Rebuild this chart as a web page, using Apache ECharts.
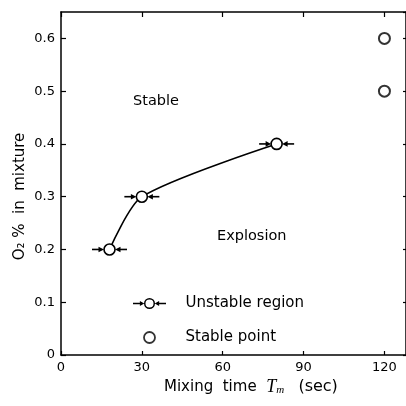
<!DOCTYPE html>
<html>
<head>
<meta charset="utf-8">
<script src="https://cdn.jsdelivr.net/npm/echarts@6/dist/echarts.min.js"></script>
<style>html,body{margin:0;padding:0;background:#fff}#c{width:406px;height:406px}</style>
</head>
<body>
<div id="c"></div>
<script>
// Data
const unstableX = [18, 30, 80];
const unstableY = [0.2, 0.3, 0.4];
const stableX = [120, 120];
const stableY = [0.6, 0.5];
const xTickValues = [0, 30, 60, 90, 120];
const yTickValues = [0, 0.1, 0.2, 0.3, 0.4, 0.5, 0.6];
const seriesNames = ['Unstable region', 'Stable point'];
const regionLabels = ['Stable', 'Explosion'];

const FONT = 'DejaVu Sans';
const unstableData = unstableX.map((x, i) => [x, unstableY[i]]);
const stableData = stableX.map((x, i) => [x, stableY[i]]);

const legendIcon = 'path://M0,5.3L8,5.3L8,6.7L0,6.7Z M7.5,3.2L12.3,6L7.5,8.8Z ' +
  'M36,5.3L28,5.3L28,6.7L36,6.7Z M28.5,3.2L23.7,6L28.5,8.8Z ' +
  'M12,6A6,6 0 1,0 24,6A6,6 0 1,0 12,6Z M13.6,6A4.4,4.4 0 1,1 22.4,6A4.4,4.4 0 1,1 13.6,6Z';

const chart = echarts.init(document.getElementById('c'), null, {renderer: 'canvas'});
const axisLineStyle = {color: '#000', width: 1.5};
chart.setOption({
  animation: false,
  backgroundColor: '#fff',
  grid: {left: 61, right: 0, top: 12, bottom: 51, containLabel: false, outerBoundsMode: 'none'},
  xAxis: [{
    type: 'value', min: 0, max: 128, interval: 30, position: 'bottom',
    axisLine: {show: true, lineStyle: axisLineStyle},
    axisTick: {show: true, inside: true, length: 4, lineStyle: {color: '#000', width: 1.2}},
    splitLine: {show: false},
    axisLabel: {color: '#000', fontFamily: FONT, fontSize: 13, margin: 6, showMaxLabel: false,
      formatter: v => xTickValues.includes(v) ? String(v) : ''}
  }, {
    type: 'value', min: 0, max: 128, interval: 30, position: 'top',
    axisLine: {show: true, onZero: false, lineStyle: axisLineStyle},
    axisTick: {show: true, inside: true, length: 5, lineStyle: {color: '#000', width: 1.2}},
    splitLine: {show: false}, axisLabel: {show: false}
  }],
  yAxis: [{
    type: 'value', min: 0, max: 0.65, interval: 0.1, position: 'left',
    name: 'O\u2082 %  in  mixture', nameLocation: 'middle', nameRotate: 90, nameGap: 33,
    nameMoveOverlap: false,
    nameTextStyle: {color: '#000', fontFamily: FONT, fontSize: 15, padding: [0, 26, 0, 0]},
    axisLine: {show: true, lineStyle: axisLineStyle},
    axisTick: {show: true, inside: true, length: 5, lineStyle: {color: '#000', width: 1.2}},
    splitLine: {show: false},
    axisLabel: {color: '#000', fontFamily: FONT, fontSize: 13, margin: 6, showMaxLabel: false,
      formatter: v => {
        const t = yTickValues.find(y => Math.abs(y - v) < 1e-9);
        if (t === undefined) return '';
        return t === 0 ? '0' : t.toFixed(1);
      }}
  }, {
    type: 'value', min: 0, max: 0.65, interval: 0.1, position: 'right',
    axisLine: {show: true, onZero: false, lineStyle: axisLineStyle},
    axisTick: {show: true, inside: true, length: 3, lineStyle: {color: '#000', width: 1.2}},
    splitLine: {show: false}, axisLabel: {show: false}
  }],
  legend: {
    orient: 'vertical', left: 128, top: 291, itemGap: 19,
    itemWidth: 36, itemHeight: 11,
    textStyle: {color: '#000', fontFamily: FONT, fontSize: 15, padding: [0, 0, 0, 13]},
    data: [
      {name: seriesNames[0], icon: legendIcon, itemStyle: {color: '#000', borderWidth: 0}},
      {name: seriesNames[1], icon: 'circle', itemStyle: {color: '#fff', borderColor: '#000', borderWidth: 1.8}}
    ]
  },
  graphic: [
    {type: 'text', left: 133, top: 94, style: {text: regionLabels[0], font: '14.5px "DejaVu Sans"', fill: '#000'}},
    {type: 'text', left: 217, top: 229, style: {text: regionLabels[1], font: '14.5px "DejaVu Sans"', fill: '#000'}},
    {type: 'text', left: 164, top: 378, style: {
      text: '{a|Mixing  time  }{t|T}{s|m}{a|   }{b|(sec)}',
      rich: {
        a: {fontFamily: FONT, fontSize: 15, color: '#000'},
        b: {fontFamily: FONT, fontSize: 16, color: '#000'},
        t: {fontFamily: 'Liberation Serif', fontStyle: 'italic', fontSize: 18, color: '#000'},
        s: {fontFamily: 'Liberation Serif', fontStyle: 'italic', fontSize: 11, color: '#000', padding: [7, 0, 0, 0]}
      }
    }}
  ],
  series: [
    {
      name: 'curve', type: 'line', data: unstableData, smooth: 0.25, showSymbol: false,
      lineStyle: {color: '#000', width: 1.6}, z: 2, silent: true
    },
    {
      name: seriesNames[0], type: 'custom', data: unstableData, z: 5,
      itemStyle: {color: '#000'},
      renderItem: function (params, api) {
        const p = api.coord([api.value(0), api.value(1)]);
        const r = 5.5, cx = p[0], cy = p[1];
        const st = {stroke: '#000', lineWidth: 1.6};
        return {type: 'group', children: [
          {type: 'line', shape: {x1: cx - r - 12, y1: cy, x2: cx - r - 3, y2: cy}, style: st},
          {type: 'polygon', shape: {points: [[cx - r - 5.5, cy - 2.8], [cx - r, cy], [cx - r - 5.5, cy + 2.8]]}, style: {fill: '#000'}},
          {type: 'line', shape: {x1: cx + r + 12, y1: cy, x2: cx + r + 3, y2: cy}, style: st},
          {type: 'polygon', shape: {points: [[cx + r + 5.5, cy - 2.8], [cx + r, cy], [cx + r + 5.5, cy + 2.8]]}, style: {fill: '#000'}},
          {type: 'circle', shape: {cx: cx, cy: cy, r: r}, style: {fill: '#fff', stroke: '#000', lineWidth: 1.6}}
        ]};
      }
    },
    {
      name: seriesNames[1], type: 'scatter', data: stableData, symbol: 'circle', symbolSize: 11, z: 5,
      itemStyle: {color: '#fff', borderColor: '#000', borderWidth: 2}
    }
  ]
});
</script>
</body>
</html>
